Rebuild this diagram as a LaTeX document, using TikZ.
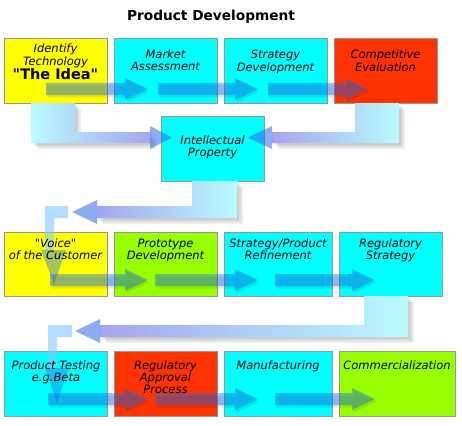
\documentclass[tikz,border=0pt]{standalone}
\usepackage{fontspec}
\setmainfont{DejaVu Sans}[Ligatures=TeXOff]
\definecolor{boxgray}{RGB}{150,150,150}
\definecolor{byellow}{RGB}{255,255,0}
\definecolor{bcyan}{RGB}{0,255,255}
\definecolor{bred}{RGB}{255,51,0}
\definecolor{bgreen}{RGB}{153,255,0}
\definecolor{flowblue}{RGB}{30,105,235}
\definecolor{lcyan}{RGB}{185,250,255}
\definecolor{lav}{RGB}{165,165,238}
\definecolor{headblue}{RGB}{50,105,230}
\definecolor{stemc}{RGB}{130,200,255}
\newcommand\tlines[1]{\begin{tabular}[t]{@{}c@{}}#1\end{tabular}}
\tikzset{
  box/.style={draw=boxgray, line width=0.9pt, anchor=north west, inner sep=0pt, minimum height=65pt},
  lbl/.style={anchor=base, inner sep=0pt, font=\fontsize{11.5}{12}\selectfont\itshape},
  shadowst/.style={black, opacity=0.07},
  pics/rarr/.style n args={3}{code={
    \fill[black, opacity=0.09, shift={(1.5,2.5)}] (#1,{#3-6}) -- ({#2-23},{#3-6}) -- ({#2-23},{#3-11}) -- (#2,#3) -- ({#2-23},{#3+11}) -- ({#2-23},{#3+6}) -- (#1,{#3+6}) -- cycle;
    \fill[flowblue, opacity=0.42] (#1,{#3-6}) -- ({#2-23},{#3-6}) -- ({#2-23},{#3-11}) -- (#2,#3) -- ({#2-23},{#3+11}) -- ({#2-23},{#3+6}) -- (#1,{#3+6}) -- cycle;
  }},
}
\begin{document}
\begin{tikzpicture}[x=1pt,y=-1pt]
\useasboundingbox[fill=white] (0,0) rectangle (462,425);

% title
\node[anchor=base, inner sep=0pt, font=\fontsize{13.7}{16}\selectfont\bfseries] (title) at (211,21) {Product Development};

% soft shadows of the L connectors
\foreach \d in {2,4,6} {
\fill[shadowst, shift={(\d,\d)}] (31,103) -- (75,103) -- (75,132) -- (150,132) -- (150,143) -- (31,143) -- cycle;
\fill[shadowst, shift={(\d,\d)}] (399,103) -- (355,103) -- (355,132) -- (272,132) -- (272,143) -- (399,143) -- cycle;
\fill[shadowst, shift={(\d,\d)}] (192,181) -- (237,181) -- (237,218) -- (97,218) -- (97,206) -- (192,206) -- cycle;
\fill[shadowst, shift={(\d,\d)}] (364,296) -- (408,296) -- (408,337) -- (100,337) -- (100,325) -- (364,325) -- cycle;
}

% row 1
\node[box, fill=byellow, minimum width=103pt] (b11) at (4,38) {};
\node[box, fill=bcyan,   minimum width=103pt] (b12) at (114,38) {};
\node[box, fill=bcyan,   minimum width=103pt] (b13) at (224,38) {};
\node[box, fill=bred,    minimum width=103pt] (b14) at (334,38) {};
% IP
\node[box, fill=bcyan,   minimum width=103pt] (ip) at (161,116) {};
% row 2
\node[box, fill=byellow, minimum width=103pt, minimum height=64pt] (b21) at (4,232) {};
\node[box, fill=bgreen,  minimum width=103pt, minimum height=64pt] (b22) at (114,232) {};
\node[box, fill=bcyan,   minimum width=108pt, minimum height=64pt] (b23) at (224,232) {};
\node[box, fill=bcyan,   minimum width=103pt, minimum height=64pt] (b24) at (339,232) {};
% row 3
\node[box, fill=bcyan,   minimum width=103pt] (b31) at (4,351) {};
\node[box, fill=bred,    minimum width=103pt] (b32) at (114,351) {};
\node[box, fill=bcyan,   minimum width=108pt] (b33) at (224,351) {};
\node[box, fill=bgreen,  minimum width=116pt] (b34) at (339,351) {};

% L connectors
\shade[left color=lcyan, right color=lav] (31,103) -- (75,103) -- (75,132) -- (150,132) -- (150,143) -- (31,143) -- cycle;
\fill[headblue, opacity=0.55] (150,126) -- (172,137.5) -- (150,149) -- cycle;

\shade[left color=lav, right color=lcyan] (399,103) -- (355,103) -- (355,132) -- (272,132) -- (272,143) -- (399,143) -- cycle;
\fill[headblue, opacity=0.55] (272,126) -- (248,137.5) -- (272,149) -- cycle;

\shade[left color=lav, right color=lcyan] (192,181) -- (237,181) -- (237,218) -- (97,218) -- (97,206) -- (192,206) -- cycle;
\fill[headblue, opacity=0.55] (97,200) -- (72,212) -- (97,224) -- cycle;
\fill[stemc, opacity=0.6] (45,206) -- (68,206) -- (68,218) -- (54,218) -- (54,250) -- (45,250) -- cycle;
\fill[flowblue, opacity=0.4] (41,250) -- (66,250) -- (54,284) -- cycle;

\shade[left color=lav, right color=lcyan] (364,296) -- (408,296) -- (408,337) -- (100,337) -- (100,325) -- (364,325) -- cycle;
\fill[headblue, opacity=0.55] (100,319) -- (75,331) -- (100,343) -- cycle;
\fill[stemc, opacity=0.6] (48,325) -- (72,325) -- (72,337) -- (57,337) -- (57,368) -- (48,368) -- cycle;
\fill[flowblue, opacity=0.4] (45,368) -- (69,368) -- (57,403) -- cycle;

% row arrows
\pic at (0,0) {rarr={46}{148}{89}};
\pic at (0,0) {rarr={158}{258}{89}};
\pic at (0,0) {rarr={268}{368}{89}};
\pic at (0,0) {rarr={50}{148}{280}};
\pic at (0,0) {rarr={155}{258}{280}};
\pic at (0,0) {rarr={275}{375}{280}};
\pic at (0,0) {rarr={48}{148}{399}};
\pic at (0,0) {rarr={155}{258}{399}};
\pic at (0,0) {rarr={275}{375}{399}};

% labels
\node[lbl] (t11) at (55.5,53) {\tlines{Identify\\Technology\\{\upshape\bfseries\fontsize{14.5}{14}\selectfont "The Idea"}}};
\node[lbl] (t12) at (165.5,59) {\tlines{Market\\Assessment}};
\node[lbl] (t13) at (275.5,59) {\tlines{Strategy\\Development}};
\node[lbl] (t14) at (385.5,59) {\tlines{Competitive\\Evaluation}};
\node[lbl] (tip) at (212.5,144) {\tlines{Intellectual\\Property}};
\node[lbl] (t21) at (55.5,247) {\tlines{"Voice"\\of the Customer}};
\node[lbl] (t22) at (165.5,247) {\tlines{Prototype\\Development}};
\node[lbl] (t23) at (278,247) {\tlines{Strategy/Product\\Refinement}};
\node[lbl] (t24) at (390.5,247) {\tlines{Regulatory\\Strategy}};
\node[lbl] (t31) at (56,369) {\tlines{Product Testing\\e.g.Beta}};
\node[lbl] (t32) at (165.5,369) {\tlines{Regulatory\\Approval\\Process}};
\node[lbl] (t33) at (278,369) {\tlines{Manufacturing}};
\node[lbl] (t34) at (397,369) {\tlines{Commercialization}};
\end{tikzpicture}
\end{document}
